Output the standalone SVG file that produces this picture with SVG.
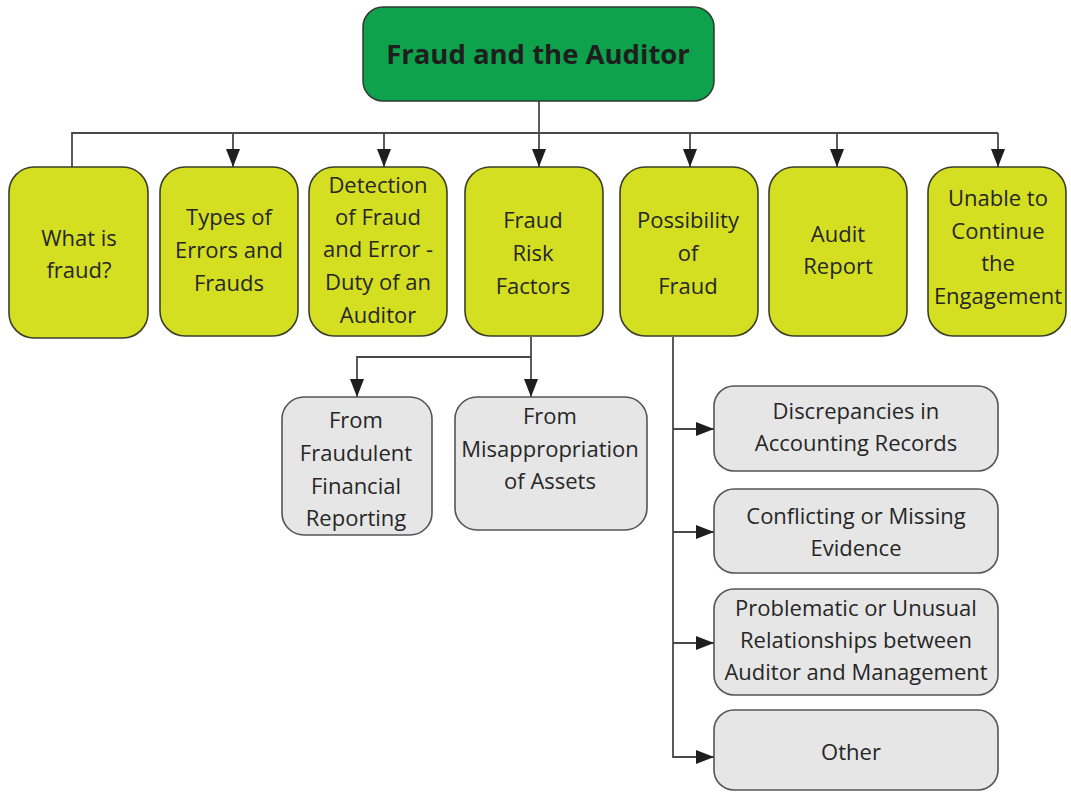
<svg xmlns="http://www.w3.org/2000/svg" width="1071" height="792" viewBox="0 0 1071 792">
<style>
.root{fill:#0ea24c;stroke:#2e3a2e;stroke-width:1.5}
.lvl1{fill:#d4df22;stroke:#3b3f26;stroke-width:1.6}
.lvl2{fill:#e6e6e6;stroke:#555;stroke-width:1.6}
text{font-family:"Open Sans","Noto Sans","Liberation Sans",sans-serif;font-size:22px;fill:#262626;text-anchor:middle}
.title{font-size:27.5px;font-weight:bold;fill:#1e1e1e}
.conn{fill:none;stroke:#4a4a4a;stroke-width:1.8}
</style>
<defs>
<marker id="ah" viewBox="0 0 18 14" refX="18" refY="7" markerWidth="18" markerHeight="14" markerUnits="userSpaceOnUse" orient="auto">
<path d="M0,0 L18,7 L0,14 z" fill="#1e1e1e"/>
</marker>
</defs>
<g id="connectors">
<path class="conn" d="M72,167 V133 H998"/>
<path class="conn" d="M233,133 V167" marker-end="url(#ah)"/>
<path class="conn" d="M384,133 V167" marker-end="url(#ah)"/>
<path class="conn" d="M539,101 V167" marker-end="url(#ah)"/>
<path class="conn" d="M690,133 V167" marker-end="url(#ah)"/>
<path class="conn" d="M837,133 V167" marker-end="url(#ah)"/>
<path class="conn" d="M998,133 V167" marker-end="url(#ah)"/>
<path class="conn" d="M531,337 V357 H357 V397" marker-end="url(#ah)"/>
<path class="conn" d="M531,357 V397" marker-end="url(#ah)"/>
<path class="conn" d="M673,337 V757 H714" marker-end="url(#ah)"/>
<path class="conn" d="M673,429 H714" marker-end="url(#ah)"/>
<path class="conn" d="M673,532 H714" marker-end="url(#ah)"/>
<path class="conn" d="M673,643 H714" marker-end="url(#ah)"/>
</g>
<g id="root">
<rect class="root" x="363" y="7" width="351" height="94" rx="20"/>
<text class="title" x="538" y="64">Fraud and the Auditor</text>
</g>
<g id="what-is-fraud">
<rect class="lvl1" x="9" y="167" width="139" height="171" rx="25"/>
<text x="79" y="246">What is</text>
<text x="79" y="278">fraud?</text>
</g>
<g id="types">
<rect class="lvl1" x="160" y="167" width="138" height="169" rx="25"/>
<text x="229" y="225">Types of</text>
<text x="229" y="258">Errors and</text>
<text x="229" y="291">Frauds</text>
</g>
<g id="detection">
<rect class="lvl1" x="309" y="167" width="138" height="169" rx="25"/>
<text x="378" y="193">Detection</text>
<text x="378" y="225">of Fraud</text>
<text x="378" y="257">and Error -</text>
<text x="378" y="290">Duty of an</text>
<text x="378" y="323">Auditor</text>
</g>
<g id="risk-factors">
<rect class="lvl1" x="465" y="167" width="138" height="169" rx="25"/>
<text x="533" y="228">Fraud</text>
<text x="533" y="261">Risk</text>
<text x="533" y="294">Factors</text>
</g>
<g id="possibility">
<rect class="lvl1" x="620" y="167" width="138" height="169" rx="25"/>
<text x="688" y="228">Possibility</text>
<text x="688" y="261">of</text>
<text x="688" y="294">Fraud</text>
</g>
<g id="audit-report">
<rect class="lvl1" x="769" y="167" width="138" height="169" rx="25"/>
<text x="838" y="242">Audit</text>
<text x="838" y="274">Report</text>
</g>
<g id="unable">
<rect class="lvl1" x="928" y="167" width="138" height="169" rx="25"/>
<text x="998" y="206">Unable to</text>
<text x="998" y="239">Continue</text>
<text x="998" y="271">the</text>
<text x="998" y="304">Engagement</text>
</g>
<g id="fraudulent-reporting">
<rect class="lvl2" x="282" y="397" width="150" height="138" rx="22"/>
<text x="356" y="428">From</text>
<text x="356" y="461">Fraudulent</text>
<text x="356" y="494">Financial</text>
<text x="356" y="526">Reporting</text>
</g>
<g id="misappropriation">
<rect class="lvl2" x="455" y="397" width="192" height="133" rx="22"/>
<text x="550" y="424">From</text>
<text x="550" y="457">Misappropriation</text>
<text x="550" y="489">of Assets</text>
</g>
<g id="discrepancies">
<rect class="lvl2" x="714" y="386" width="284" height="85" rx="20"/>
<text x="856" y="419">Discrepancies in</text>
<text x="856" y="451">Accounting Records</text>
</g>
<g id="conflicting">
<rect class="lvl2" x="714" y="489" width="284" height="84" rx="20"/>
<text x="856" y="524">Conflicting or Missing</text>
<text x="856" y="556">Evidence</text>
</g>
<g id="problematic">
<rect class="lvl2" x="714" y="589" width="284" height="106" rx="20"/>
<text x="856" y="616">Problematic or Unusual</text>
<text x="856" y="648">Relationships between</text>
<text x="856" y="680">Auditor and Management</text>
</g>
<g id="other">
<rect class="lvl2" x="714" y="710" width="284" height="80" rx="20"/>
<text x="851" y="760">Other</text>
</g>
</svg>
